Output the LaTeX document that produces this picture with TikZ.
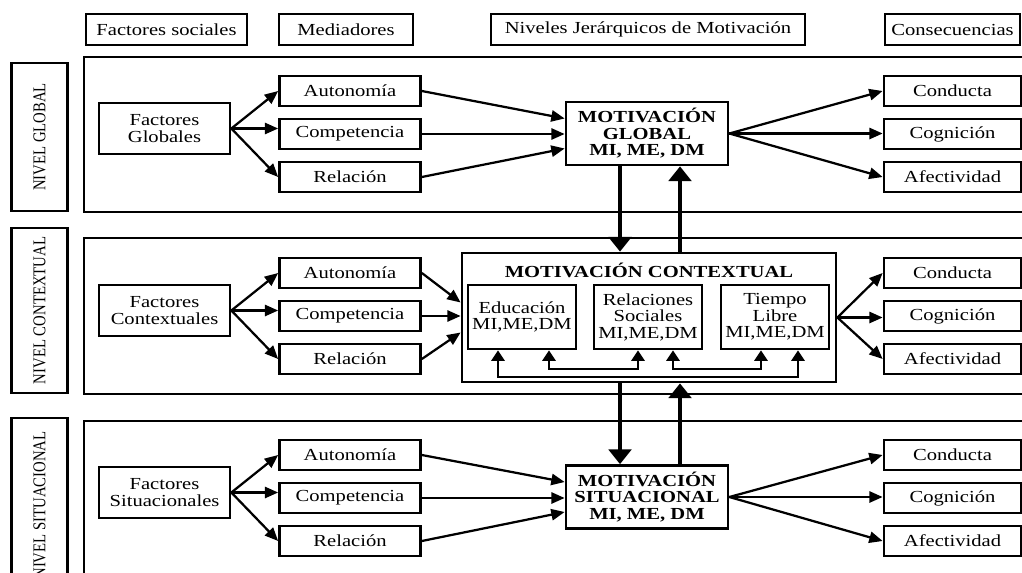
\documentclass[tikz,border=0pt]{standalone}
\usepackage{fontspec}
\setmainfont{Liberation Serif}[FakeStretch=1.22]
\newfontfamily\lvlfont{Liberation Serif}[FakeStretch=0.82]
\usetikzlibrary{arrows.meta,calc}

\tikzset{
  box/.style={draw, line width=1.9pt, fill=white, align=center, inner sep=0pt,
    font=\fontsize{12}{11.7}\selectfont},
  hdr/.style={box, minimum height=0.775cm},
  facbox/.style={box, minimum width=3.275cm, minimum height=1.275cm},
  medbox/.style={box, minimum width=3.525cm, minimum height=0.75cm},
  conbox/.style={box, minimum width=3.425cm, minimum height=0.75cm},
  motbox/.style={box, minimum width=4.05cm, minimum height=1.575cm,
    font=\fontsize{12}{11.7}\selectfont\bfseries},
  subbox/.style={box, minimum width=2.7cm, minimum height=1.6cm},
  lvlbox/.style={box, rotate=90, minimum height=1.4cm,
    font=\lvlfont\fontsize{12.8}{14}\selectfont},
  panel/.style={draw, line width=1.6pt},
  arr/.style={line width=1.6pt, -{Triangle[length=9.5pt,width=8pt]}},
  bigarr/.style={line width=3.4pt, -{Triangle[length=10.5pt,width=16pt]}},
  linkarr/.style={line width=1.6pt,
    {Triangle[length=7.5pt,width=9.5pt]}-{Triangle[length=7.5pt,width=9.5pt]}},
}

\begin{document}
\begin{tikzpicture}[x=0.025cm, y=-0.025cm]
\useasboundingbox (0,0) rectangle (1022,573);
\clip (0,0) rectangle (1022,573);

% column headers
\node[hdr, minimum width=4.025cm] (hfac) at (166.5,29.5) {Factores sociales};
\node[hdr, minimum width=3.35cm] (hmed) at (346,29.5) {Mediadores};
\node[hdr, minimum width=7.85cm] (hniv) at (648,29.5) {Niveles Jerárquicos de Motivación};
\node[hdr, minimum width=3.375cm] (hcon) at (952.5,29.5) {Consecuencias};

% the three level panels
\draw[panel] (84,57) rectangle (1040,212);
\draw[panel] (84,238) rectangle (1040,394);
\draw[panel] (84,421) rectangle (1040,600);

% level labels
\node[lvlbox, minimum width=3.7cm] (lg) at (39.5,137) {NIVEL GLOBAL};
\node[lvlbox, minimum width=4.125cm] (lc) at (39.5,310.5) {NIVEL CONTEXTUAL};
\node[lvlbox, minimum width=4.35cm] (ls) at (39.5,505) {NIVEL SITUACIONAL};

% motivation boxes
\node[motbox] (motg) at (647,133.5) {MOTIVACIÓN\\GLOBAL\\MI, ME, DM};
\node[motbox] (mots) at (647,497) {MOTIVACIÓN\\SITUACIONAL\\MI, ME, DM};
\node[box, minimum width=9.35cm, minimum height=3.225cm] (motc) at (649,317.5) {};
\node[font=\fontsize{12}{11.7}\selectfont\bfseries] (motct) at (649,270) {MOTIVACIÓN CONTEXTUAL};
\node[subbox] (edu) at (522,317) {Educación\\MI,ME,DM};
\node[subbox] (soc) at (648,317) {Relaciones\\Sociales\\MI,ME,DM};
\node[subbox] (tlib) at (775,317) {Tiempo\\Libre\\MI,ME,DM};

% links between the contexts
\draw[linkarr] ($(edu.south)+(-24,0)$) -- ++(0,27) -| ($(tlib.south)+(23,0)$);
\draw[linkarr] ($(edu.south)+(27,0)$) -- ++(0,19) -| ($(soc.south)+(-10,0)$);
\draw[linkarr] ($(soc.south)+(25,0)$) -- ++(0,19) -| ($(tlib.south)+(-14,0)$);

% one row per level
\foreach \r/\ym/\fac in {g/134/Globales, c/316/Contextuales, s/498/Situacionales}{
  \node[facbox] (fac\r) at (164.5,\ym-5.5) {Factores\\\fac};
  \node[medbox] (aut\r) at (350,\ym-43) {Autonomía};
  \node[medbox] (comp\r) at (350,\ym) {Competencia};
  \node[medbox] (relac\r) at (350,\ym+43) {Relación};
  \node[conbox] (cond\r) at (952.5,\ym-43) {Conducta};
  \node[conbox] (cogn\r) at (952.5,\ym) {Cognición};
  \node[conbox] (afec\r) at (952.5,\ym+43) {Afectividad};
  \draw[arr] (fac\r.east) -- (aut\r.west);
  \draw[arr] (fac\r.east) -- (comp\r.west |- fac\r.east);
  \draw[arr] (fac\r.east) -- (relac\r.west);
  \draw[arr] (aut\r.east) -- ($(mot\r.west)+(0,-15)$);
  \draw[arr] (comp\r.east) -- (mot\r.west |- comp\r.east);
  \draw[arr] (relac\r.east) -- ($(mot\r.west)+(0,15)$);
  \draw[arr] (mot\r.east) -- (cond\r.west);
  \draw[arr] (mot\r.east) -- (cogn\r.west |- mot\r.east);
  \draw[arr] (mot\r.east) -- (afec\r.west);
}

% between the levels
\coordinate (vd) at (620,0);
\coordinate (vu) at (680,0);
\draw[bigarr] (motg.south -| vd) -- (motc.north -| vd);
\draw[bigarr] (motc.north -| vu) -- (motg.south -| vu);
\draw[bigarr] (motc.south -| vd) -- (mots.north -| vd);
\draw[bigarr] (mots.north -| vu) -- (motc.south -| vu);
\end{tikzpicture}
\end{document}
